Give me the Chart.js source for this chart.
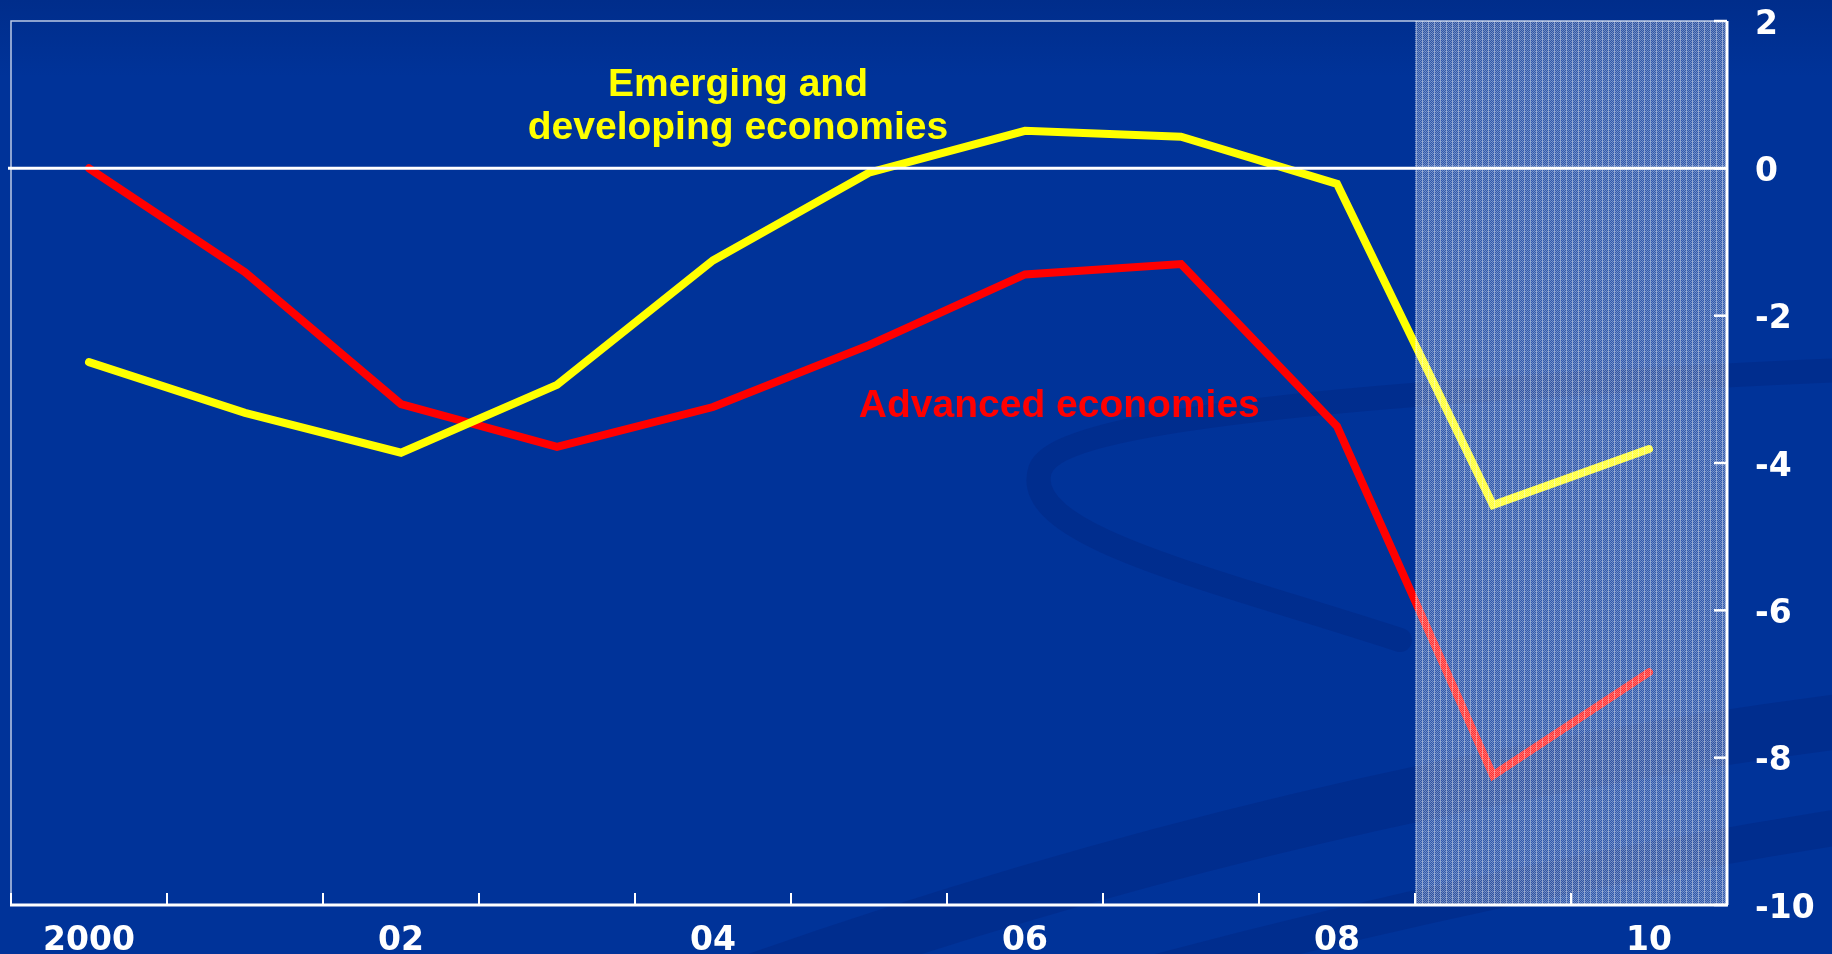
<!DOCTYPE html>
<html>
<head>
<meta charset="utf-8">
<script src="https://cdn.jsdelivr.net/npm/chart.js@4/dist/chart.umd.min.js"></script>
<style>
  html, body { margin: 0; padding: 0; background: #003399; }
  #wrap { width: 1832px; height: 954px; position: relative; }
</style>
</head>
<body>
<div id="wrap"><canvas id="chart"></canvas></div>
<script>
// Chart data
const years = ["2000", "2001", "2002", "2003", "2004", "2005", "2006", "2007", "2008", "2009", "2010"];
const xTickLabels = ["2000", "", "02", "", "04", "", "06", "", "08", "", "10"];
const advanced = [0, -1.41, -3.2, -3.78, -3.24, -2.4, -1.44, -1.3, -3.5, -8.24, -6.84];
const emerging = [-2.63, -3.32, -3.86, -2.94, -1.25, -0.06, 0.51, 0.43, -0.21, -4.57, -3.81];
const yTicks = [2, 0, -2, -4, -6, -8, -10];
const firstProjection = 9; // 2009 onwards is shaded

// dotted texture for the projection band
function makePattern(ctx) {
  const tile = document.createElement("canvas");
  tile.width = 6;
  tile.height = 6;
  const t = tile.getContext("2d");
  for (let x = 0; x < 6; x++) {
    for (let y = 0; y < 6; y++) {
      let a = (x + y) % 2 === 0 ? 0.44 : 0.18;
      if (x === 0) a = 0.55;
      if (y === 3) a += 0.05;
      t.fillStyle = "rgba(255,255,255," + a + ")";
      t.fillRect(x, y, 1, 1);
    }
  }
  return ctx.createPattern(tile, "repeat");
}

// background with the darker swooshes
const backgroundPlugin = {
  id: "background",
  beforeDraw(chart) {
    const ctx = chart.ctx;
    const w = chart.width, h = chart.height;
    ctx.save();
    const g = ctx.createLinearGradient(0, 0, 0, h);
    g.addColorStop(0, "#002d8b");
    g.addColorStop(0.08, "#003399");
    g.addColorStop(1, "#003399");
    ctx.fillStyle = g;
    ctx.fillRect(0, 0, w, h);

    ctx.lineCap = "round";
    ctx.strokeStyle = "rgba(0,28,110,0.25)";
    ctx.lineWidth = 24;
    ctx.beginPath();
    ctx.moveTo(w + 10, 370);
    ctx.bezierCurveTo(1500, 385, 1060, 410, 1040, 470);
    ctx.bezierCurveTo(1020, 535, 1200, 575, 1400, 640);
    ctx.stroke();

    ctx.lineWidth = 55;
    ctx.beginPath();
    ctx.moveTo(760, h + 25);
    ctx.quadraticCurveTo(1300, 790, w + 20, 720);
    ctx.stroke();

    ctx.lineWidth = 36;
    ctx.beginPath();
    ctx.moveTo(1150, h + 20);
    ctx.quadraticCurveTo(1500, 880, w + 20, 825);
    ctx.stroke();
    ctx.restore();
  },
};

// projection shading, frame, zero line and inward ticks
const framePlugin = {
  id: "frame",
  afterDatasetsDraw(chart) {
    const ctx = chart.ctx;
    const area = chart.chartArea;
    const xs = chart.scales.x;
    const ys = chart.scales.y;
    ctx.save();

    // shaded projection band
    const bandLeft = xs.getPixelForValue(firstProjection - 0.5);
    ctx.fillStyle = makePattern(ctx);
    ctx.fillRect(bandLeft, area.top, area.right - bandLeft, area.bottom - area.top);

    // left and top border
    ctx.strokeStyle = "rgba(220,228,245,0.85)";
    ctx.lineWidth = 1.5;
    ctx.beginPath();
    ctx.moveTo(area.left, area.bottom);
    ctx.lineTo(area.left, area.top);
    ctx.lineTo(area.right, area.top);
    ctx.stroke();

    // zero line
    const y0 = ys.getPixelForValue(0);
    ctx.strokeStyle = "#ffffff";
    ctx.lineWidth = 3;
    ctx.beginPath();
    ctx.moveTo(area.left - 3, y0);
    ctx.lineTo(area.right, y0);
    ctx.stroke();

    // right border with ticks
    ctx.lineWidth = 3;
    ctx.beginPath();
    ctx.moveTo(area.right, area.top);
    ctx.lineTo(area.right, area.bottom);
    ctx.stroke();
    ctx.lineWidth = 2.5;
    yTicks.forEach((v) => {
      const py = ys.getPixelForValue(v);
      ctx.beginPath();
      ctx.moveTo(area.right - 13, py);
      ctx.lineTo(area.right, py);
      ctx.stroke();
    });

    // bottom axis with ticks between years
    ctx.lineWidth = 3;
    ctx.beginPath();
    ctx.moveTo(area.left - 1, area.bottom);
    ctx.lineTo(area.right + 1, area.bottom);
    ctx.stroke();
    ctx.lineWidth = 2;
    for (let i = 0; i <= years.length; i++) {
      const px = xs.getPixelForValue(i - 0.5);
      ctx.beginPath();
      ctx.moveTo(px, area.bottom);
      ctx.lineTo(px, area.bottom - 12);
      ctx.stroke();
    }
    ctx.restore();
  },
  afterDraw(chart) {
    const ctx = chart.ctx;
    const xs = chart.scales.x;
    const ys = chart.scales.y;
    ctx.save();
    ctx.font = 'bold 39px "Liberation Sans", Arial, sans-serif';
    ctx.textAlign = "center";
    ctx.textBaseline = "alphabetic";
    ctx.fillStyle = "#ffff00";
    ctx.fillText("Emerging and", xs.getPixelForValue(4.16), ys.getPixelForValue(0.98));
    ctx.fillText("developing economies", xs.getPixelForValue(4.16), ys.getPixelForValue(0.4));
    ctx.fillStyle = "#ff0000";
    ctx.fillText("Advanced economies", xs.getPixelForValue(6.22), ys.getPixelForValue(-3.37));
    ctx.restore();
  },
};

const ctx = document.getElementById("chart").getContext("2d");

new Chart(ctx, {
  type: "line",
  data: {
    labels: years,
    datasets: [
      {
        label: "Emerging and developing economies",
        data: emerging,
        borderColor: "#ffff00",
        borderWidth: 8,
        pointRadius: 0,
        tension: 0,
        borderCapStyle: "round",
        borderJoinStyle: "miter",
      },
      {
        label: "Advanced economies",
        data: advanced,
        borderColor: "#ff0000",
        borderWidth: 8,
        pointRadius: 0,
        tension: 0,
        borderCapStyle: "round",
        borderJoinStyle: "miter",
      },
    ],
  },
  options: {
    responsive: true,
    maintainAspectRatio: false,
    animation: false,
    layout: { padding: { left: 11, top: 21, right: 0, bottom: 0 } },
    plugins: {
      legend: { display: false },
      tooltip: { enabled: false },
    },
    scales: {
      x: {
        offset: true,
        grid: { display: false, drawTicks: false },
        border: { display: false },
        ticks: {
          autoSkip: false,
          maxRotation: 0,
          padding: 17,
          color: "#ffffff",
          font: { family: "DejaVu Sans", size: 33, weight: "bold" },
          callback: (v, i) => xTickLabels[i],
        },
        afterFit: (s) => {
          s.height = 49;
          s.paddingLeft = 0;
          s.paddingRight = 0;
        },
      },
      y: {
        position: "right",
        min: -10,
        max: 2,
        grid: { display: false, drawTicks: false },
        border: { display: false },
        ticks: {
          padding: 28,
          labelOffset: 4,
          color: "#ffffff",
          font: { family: "DejaVu Sans", size: 33, weight: "bold" },
        },
        afterBuildTicks: (s) => { s.ticks = yTicks.map((v) => ({ value: v })); },
        afterFit: (s) => {
          s.width = 105;
          s.paddingTop = 0;
          s.paddingBottom = 0;
        },
      },
    },
  },
  plugins: [backgroundPlugin, framePlugin],
});
</script>
</body>
</html>
